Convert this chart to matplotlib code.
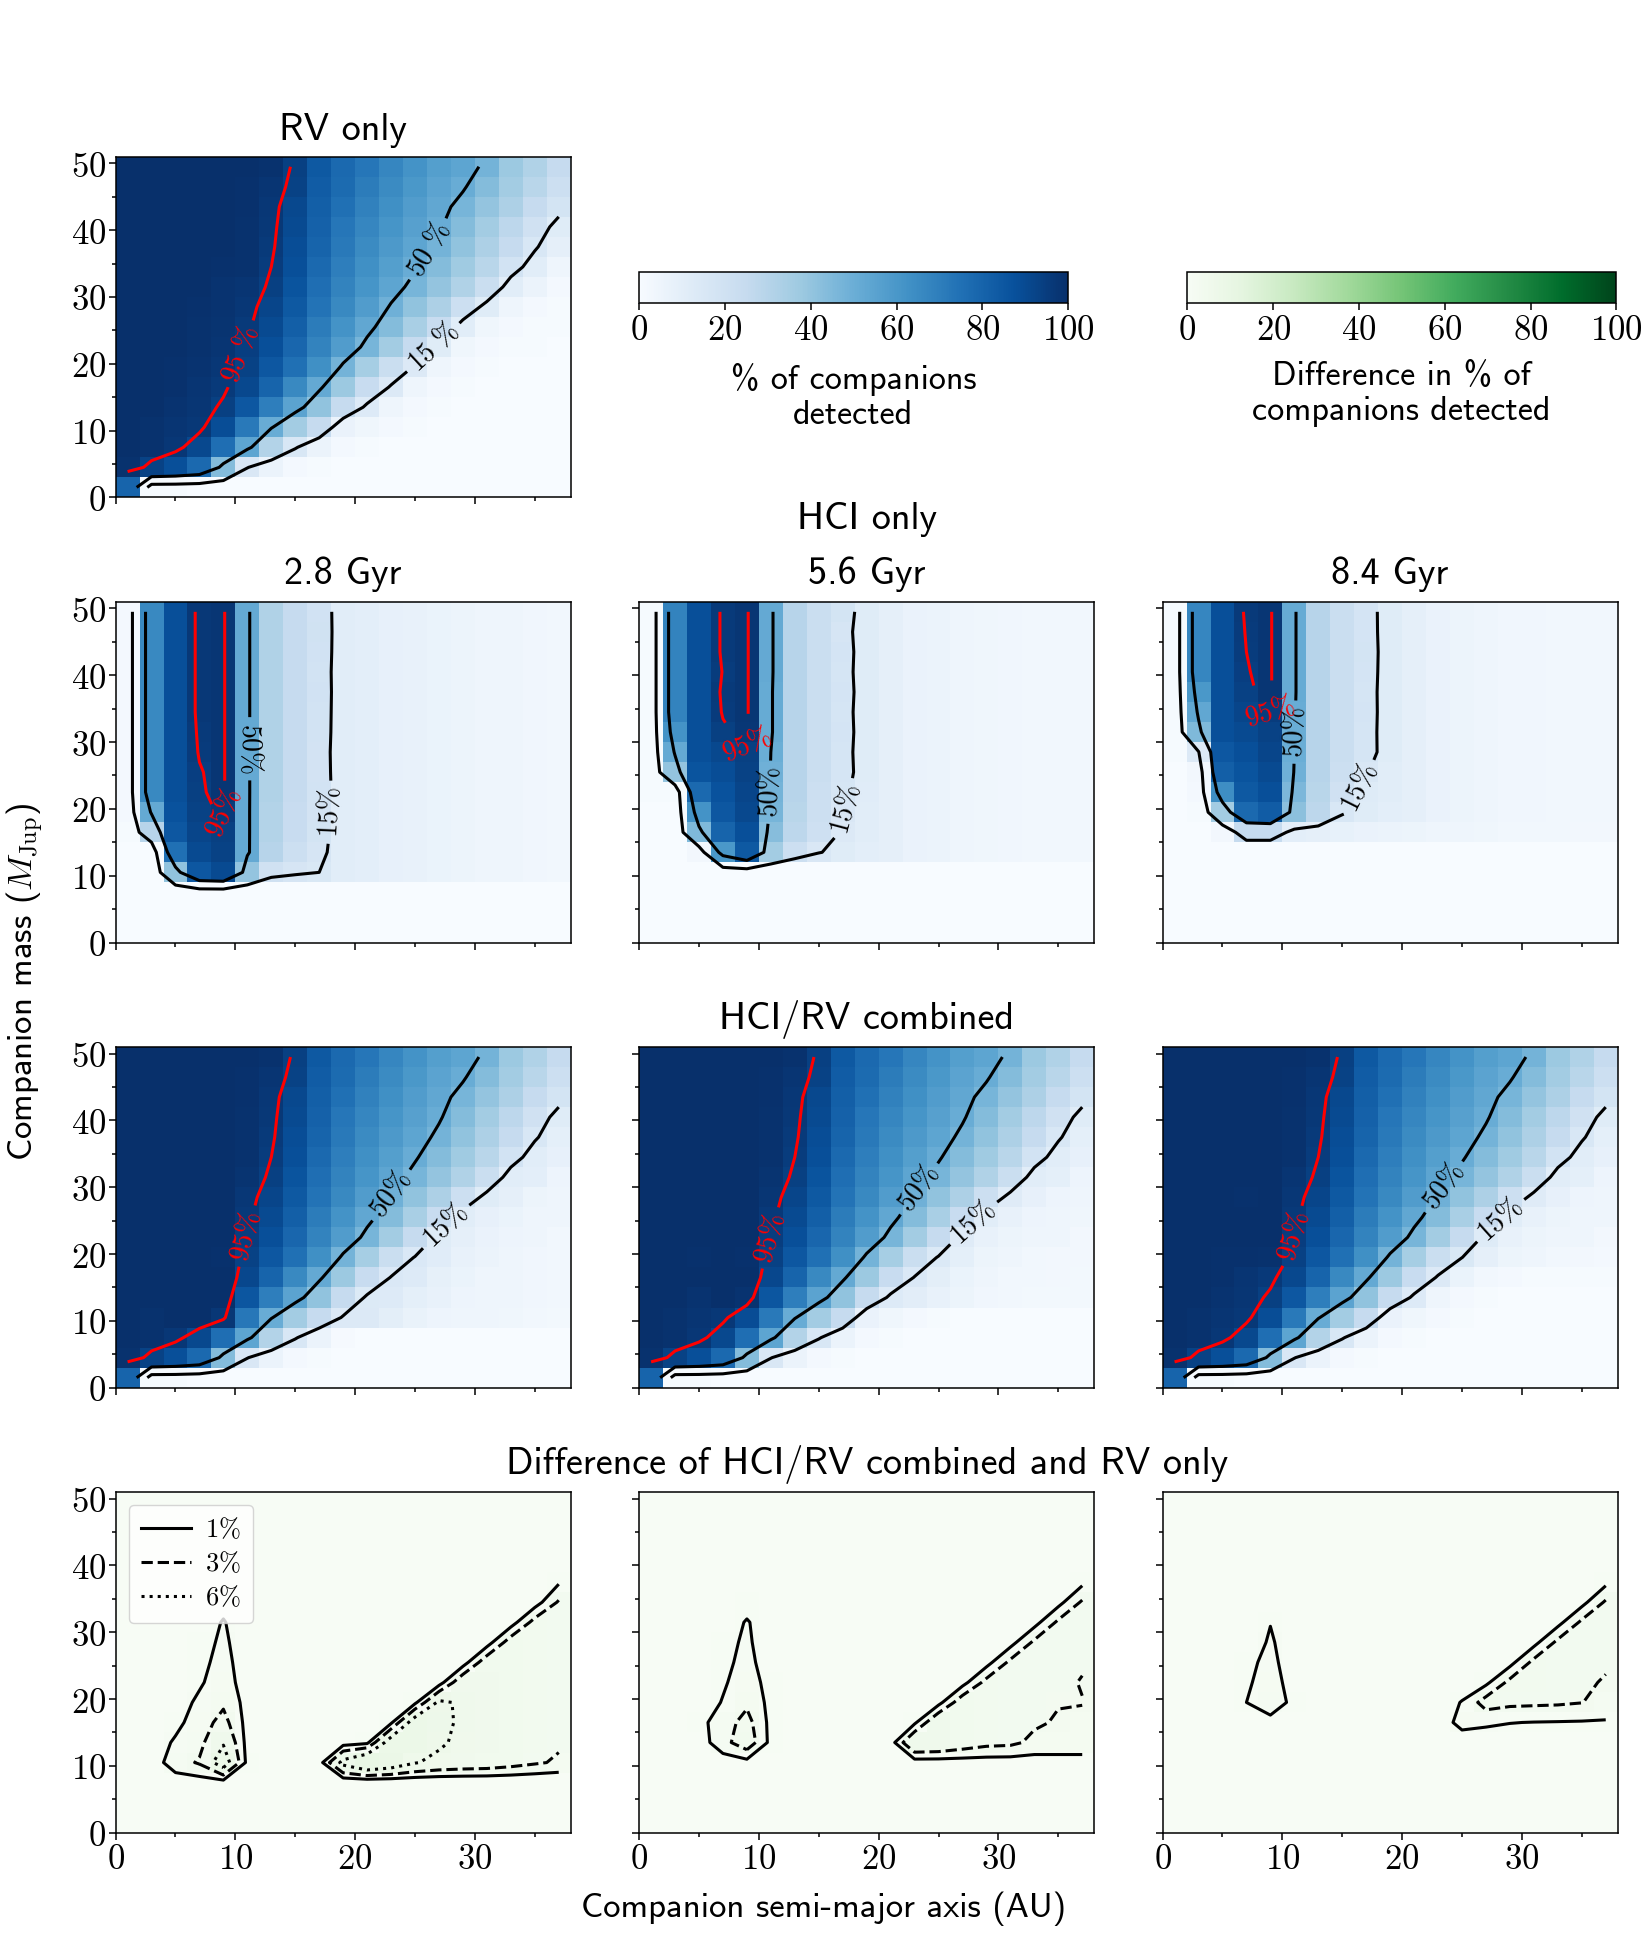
import numpy as np
import matplotlib
matplotlib.use('Agg')
import matplotlib.pyplot as plt
from matplotlib.ticker import MultipleLocator, FuncFormatter
from matplotlib.lines import Line2D
from matplotlib.cm import ScalarMappable
from matplotlib.colors import Normalize

plt.rcParams['mathtext.fontset'] = 'cm'
plt.rcParams['axes.unicode_minus'] = False
SANS = ['cmss10', 'DejaVu Sans']

# ---------------- grid (cell centres) ----------------
sep_au = [1, 3, 5, 7, 9, 11, 13, 15, 17, 19, 21, 23, 25, 27, 29, 31, 33, 35, 37]
mass_mjup = [1.5, 4.5, 7.5, 10.5, 13.5, 16.5, 19.5, 22.5, 25.5, 28.5, 31.5,
             34.5, 37.5, 40.5, 43.5, 46.5, 49.5]

# ---------------- RV only (% detected), rows = mass from low to high ----------------
rv_only = [
    [80, 1, 1, 0, 0, 0, 0, 0, 0, 0, 0, 0, 0, 0, 0, 0, 0, 0, 0],
    [99, 93, 88, 78, 44, 15.5, 6, 2, 1, 0, 0, 0, 0, 0, 0, 0, 0, 0, 0],
    [100, 99, 97, 91, 76, 54, 31, 16, 6, 2, 1, 0, 0, 0, 0, 0, 0, 0, 0],
    [100, 99, 98, 96.5, 89, 72, 51, 36, 25, 7, 4, 2, 1, 0, 0, 0, 0, 0, 0],
    [100, 100, 98.7, 97.5, 94, 85, 70, 55, 41, 25, 13, 5, 2, 1, 0, 0, 0, 0, 0],
    [100, 100, 99.5, 98, 96, 91, 80, 66, 52, 38, 24, 14, 5, 2, 1, 0, 0, 0, 0],
    [100, 100, 99.5, 98.6, 97, 93, 85, 75, 63, 48, 35, 23, 14, 5, 2, 1, 0, 0, 0],
    [100, 100, 99.8, 99, 98, 94.5, 88, 79, 68, 58, 47, 36, 25, 12, 4, 2, 1, 1, 0],
    [100, 100, 100, 99.2, 98.4, 96, 90, 82, 71, 62, 53, 44, 34, 24, 11, 4, 2, 1, 1],
    [100, 100, 100, 99.3, 98.6, 97, 92, 84, 74, 66, 58, 49, 41, 33, 22, 12, 5, 2, 1],
    [100, 100, 100, 99.7, 98.8, 98, 94, 86, 76, 68, 61, 54, 47, 40, 32, 23, 11, 6, 2],
    [100, 100, 100, 100, 99.4, 99, 95, 88, 78, 70, 63, 57, 51, 44, 37, 29, 19, 11, 5],
    [100, 100, 100, 100, 99.7, 99, 96, 89, 80, 72, 65, 59, 54, 48, 41, 33, 25, 16, 9],
    [100, 100, 100, 100, 99.7, 99, 96.5, 90, 81, 73, 67, 61, 56, 51, 44, 36, 28, 20, 12],
    [100, 100, 100, 100, 99.7, 99.5, 97, 91, 82, 75, 69, 63, 58, 53, 47, 40, 33, 25, 18],
    [100, 100, 100, 100, 99.7, 99.5, 98, 93, 83, 77, 71, 65, 60, 55, 51, 44, 36, 29, 22],
    [100, 100, 100, 100, 99.7, 99.8, 99, 94, 84, 78, 73, 67, 62, 57, 54, 48, 38, 32, 25],
]

# ---------------- HCI only ----------------
hci_2p8 = [
    [0] * 19,
    [0] * 19,
    [0] * 19,
    [0, 0, 41, 85, 90, 40, 20, 17, 15, 11, 10, 8.5, 7.5, 6.5, 5.5, 5, 4.3, 3.7, 3.3],
    [0, 0, 75, 90, 93, 52, 30, 22, 17, 11, 10, 8.5, 7.5, 6.5, 5.5, 5, 4.3, 3.7, 3.3],
    [1, 30, 85, 92, 94, 52, 31, 24, 18, 11, 10, 8.5, 7.5, 6.5, 5.5, 5, 4.3, 3.7, 3.3],
    [2, 52, 87, 93, 96, 52, 31, 24, 18.5, 11, 10, 8.5, 7.5, 6.5, 5.5, 5, 4.3, 3.7, 3.3],
    [2, 66, 88, 94, 97.5, 52, 32, 25, 19, 11, 10, 8.5, 7.5, 6.5, 5.5, 5, 4.3, 3.7, 3.3],
    [2, 66, 88, 94.5, 97.5, 52, 32, 25, 18.6, 11, 10, 8.5, 7.5, 6.5, 5.5, 5, 4.3, 3.7, 3.3],
    [2, 66, 88, 95.5, 97.5, 52, 32, 25, 18.4, 11, 10, 8.5, 7.5, 6.5, 5.5, 5, 4.3, 3.7, 3.3],
    [2, 66, 88, 96, 97.5, 52, 32, 25, 18.8, 11, 10, 8.5, 7.5, 6.5, 5.5, 5, 4.3, 3.7, 3.3],
    [2, 66, 88, 96.5, 97.5, 52, 32, 25, 19, 11, 10, 8.5, 7.5, 6.5, 5.5, 5, 4.3, 3.7, 3.3],
    [2, 66, 88, 96.5, 97.5, 52, 32, 25, 19.2, 11, 10, 8.5, 7.5, 6.5, 5.5, 5, 4.3, 3.7, 3.3],
    [2, 66, 88, 96.5, 97.5, 52, 32, 25, 19, 11, 10, 8.5, 7.5, 6.5, 5.5, 5, 4.3, 3.7, 3.3],
    [2, 66, 88, 96.5, 97.5, 52, 32, 25, 19.4, 11, 10, 8.5, 7.5, 6.5, 5.5, 5, 4.3, 3.7, 3.3],
    [2, 66, 88, 96.5, 97.5, 52, 32, 25, 19.6, 11, 10, 8.5, 7.5, 6.5, 5.5, 5, 4.3, 3.7, 3.3],
    [2, 66, 88, 96.5, 97.5, 52, 32, 25, 19.4, 11, 10, 8.5, 7.5, 6.5, 5.5, 5, 4.3, 3.7, 3.3],
]

hci_5p6 = [
    [0] * 19,
    [0] * 19,
    [0] * 19,
    [0] * 19,
    [0, 0, 3, 60, 84, 36, 22, 15.5, 12, 10, 9, 7, 6, 5, 4.2, 3.8, 3.5, 3.4, 3.3],
    [0, 0, 45, 80, 88, 43, 28, 21, 14, 11, 9, 7, 6, 5, 4.2, 3.8, 3.5, 3.4, 3.3],
    [0, 0, 62, 85, 91, 47, 29, 22, 15.5, 11, 9, 7, 6, 5, 4.2, 3.8, 3.5, 3.4, 3.3],
    [1, 1, 78, 87, 92, 48, 30, 22, 16.5, 11.5, 9, 7, 6, 5, 4.2, 3.8, 3.5, 3.4, 3.3],
    [1, 40, 86, 89, 93, 49, 30, 23, 17.5, 12, 9, 7, 6, 5, 4.2, 3.8, 3.5, 3.4, 3.3],
    [1, 52, 88, 91, 94, 50, 30, 23, 17.2, 12, 9, 7, 6, 5, 4.2, 3.8, 3.5, 3.4, 3.3],
    [1, 62, 88, 94, 97, 51.5, 30, 23, 17.6, 12, 9, 7, 6, 5, 4.2, 3.8, 3.5, 3.4, 3.3],
    [1, 68, 88, 95.5, 97.5, 51.5, 30, 23, 17.3, 12, 9, 7, 6, 5, 4.2, 3.8, 3.5, 3.4, 3.3],
    [1, 68, 88, 96, 97.5, 51.5, 30, 23, 17.7, 12, 9, 7, 6, 5, 4.2, 3.8, 3.5, 3.4, 3.3],
    [1, 68, 88, 95.3, 97.5, 52, 30, 23, 17.3, 12, 9, 7, 6, 5, 4.2, 3.8, 3.5, 3.4, 3.3],
    [1, 68, 88, 96, 97.5, 52, 30, 23, 17.6, 12, 9, 7, 6, 5, 4.2, 3.8, 3.5, 3.4, 3.3],
    [1, 68, 88, 96, 97.5, 52, 30, 23, 17.1, 12, 9, 7, 6, 5, 4.2, 3.8, 3.5, 3.4, 3.3],
    [1, 68, 88, 96, 97.5, 52, 30, 23, 18.0, 12, 9, 7, 6, 5, 4.2, 3.8, 3.5, 3.4, 3.3],
]

hci_8p4 = [
    [0] * 19,
    [0] * 19,
    [0] * 19,
    [0] * 19,
    [0] * 19,
    [0, 0, 3, 25, 25, 10, 9, 8, 7, 6, 5.5, 5, 4.5, 4, 3.5, 3.3, 3.2, 3.1, 3],
    [0, 1, 36, 78, 83, 42, 28, 16, 12, 10, 9, 7, 5.5, 4.5, 3.8, 3.6, 3.5, 3.4, 3.3],
    [0, 2, 64, 84, 88, 46, 29, 20, 12.5, 11, 9, 7, 5.5, 4.5, 3.8, 3.6, 3.5, 3.4, 3.3],
    [0, 3, 82, 86, 90, 49, 30, 22, 15.5, 11, 9, 7, 5.5, 4.5, 3.8, 3.6, 3.5, 3.4, 3.3],
    [1, 14, 85, 88, 92, 50, 30, 23, 17.5, 12, 9, 7, 5.5, 4.5, 3.8, 3.6, 3.5, 3.4, 3.3],
    [1, 45, 88, 90, 93, 50.5, 30, 23, 17.4, 12, 9, 7, 5.5, 4.5, 3.8, 3.6, 3.5, 3.4, 3.3],
    [1, 53, 88, 92, 95, 51, 30, 23, 17.6, 12, 9, 7, 5.5, 4.5, 3.8, 3.6, 3.5, 3.4, 3.3],
    [1, 60, 88, 93.5, 97.5, 51.5, 30, 23, 17.5, 12, 9, 7, 5.5, 4.5, 3.8, 3.6, 3.5, 3.4, 3.3],
    [1, 67, 88, 94.5, 97.5, 51.5, 30, 23, 17.8, 12, 9, 7, 5.5, 4.5, 3.8, 3.6, 3.5, 3.4, 3.3],
    [1, 67, 88, 95, 97.5, 51.5, 30, 23, 18.0, 12, 9, 7, 5.5, 4.5, 3.8, 3.6, 3.5, 3.4, 3.3],
    [1, 67, 88, 95.5, 97.5, 51.5, 30, 23, 17.7, 12, 9, 7, 5.5, 4.5, 3.8, 3.6, 3.5, 3.4, 3.3],
    [1, 67, 88, 96, 97.5, 51.5, 30, 23, 17.6, 12, 9, 7, 5.5, 4.5, 3.8, 3.6, 3.5, 3.4, 3.3],
]

# ---------------- Difference (HCI/RV combined - RV only) ----------------
diff_2p8 = [
    [0] * 19,
    [0] * 19,
    [0, 0, 0, 0, 0, 0, 0, 0, 0, -0.8, -0.8, -0.8, -0.8, -0.8, -0.8, -0.8, -0.8, -0.8, -0.8],
    [0, 0, 2, 3.25, 8, 0.4, 0, 0, 0, 7, 10, 8.5, 6.2, 5.2, 4.8, 4.6, 4.0, 3.3, 2.7],
    [0, 0, 1.25, 2.3, 5.7, 0.3, 0, 0, 0, 0, 0.5, 8, 7.5, 6.5, 5.2, 4.8, 4.3, 3.6, 3.3],
    [0, 0, 0.5, 1.9, 3.8, 0.3, 0, 0, 0, 0, 0, 0.6, 8, 6.8, 5.5, 5, 4.3, 3.6, 3.3],
    [0, 0, 0.3, 1.3, 2.6, 0.3, 0, 0, 0, 0, 0, 0, 0.5, 6.6, 5.5, 5, 4.3, 3.6, 3.3],
    [0, 0, 0.1, 0.8, 1.8, 0.2, 0, 0, 0, 0, 0, 0, 0, 0, 5, 4.8, 4.3, 3.7, 3.3],
    [0, 0, 0, 0.6, 1.5, 0.2, 0, 0, 0, 0, 0, 0, 0, 0, 0, 4.5, 4.3, 3.8, 3.3],
    [0, 0, 0, 0.4, 1.3, 0.1, 0, 0, 0, 0, 0, 0, 0, 0, 0, 0, 4.2, 3.8, 3.3],
    [0, 0, 0, 0.2, 1.1, 0.1, 0, 0, 0, 0, 0, 0, 0, 0, 0, 0, 0, 3.8, 3.3],
    [0, 0, 0, 0, 0.5, 0, 0, 0, 0, 0, 0, 0, 0, 0, 0, 0, 0, 0, 3.25],
    [0, 0, 0, 0, 0.2, 0, 0, 0, 0, 0, 0, 0, 0, 0, 0, 0, 0, 0, 0.75],
    [0, 0, 0, 0, 0.2, 0, 0, 0, 0, 0, 0, 0, 0, 0, 0, 0, 0, 0, 0],
    [0, 0, 0, 0, 0.2, 0, 0, 0, 0, 0, 0, 0, 0, 0, 0, 0, 0, 0, 0],
    [0, 0, 0, 0, 0.2, 0, 0, 0, 0, 0, 0, 0, 0, 0, 0, 0, 0, 0, 0],
    [0, 0, 0, 0, 0.2, 0, 0, 0, 0, 0, 0, 0, 0, 0, 0, 0, 0, 0, 0],
]

diff_5p6 = [
    [0] * 19,
    [0] * 19,
    [0] * 19,
    [0, 0, 0, 0, 0.3, 0, 0, 0, 0, 0, 0, 0, 0, 0, 0, 0, 0, 0, 0],
    [0, 0, 0, 2.2, 4.5, 0.4, 0, 0, 0, 0, 0, 5.8, 5.5, 4.5, 3.7, 3.5, 2.5, 2.5, 2.5],
    [0, 0, 0.4, 2.0, 3.8, 0.4, 0, 0, 0, 0, 0, 0.6, 5.5, 4.5, 3.7, 3.5, 3.3, 2.8, 2.7],
    [0, 0, 0.1, 1.1, 2.6, 0.4, 0, 0, 0, 0, 0, 0, 0.3, 4.5, 3.7, 3.5, 3.4, 3.1, 3.05],
    [0, 0, 0, 0.8, 1.8, 0.4, 0, 0, 0, 0, 0, 0, 0, 0.2, 3.7, 3.5, 3.4, 3.4, 2.9],
    [0, 0, 0, 0.67, 1.4, 0.3, 0, 0, 0, 0, 0, 0, 0, 0, 0.2, 3.5, 3.4, 3.4, 3.2],
    [0, 0, 0, 0.63, 1.2, 0.3, 0, 0, 0, 0, 0, 0, 0, 0, 0, 0.2, 3.4, 3.4, 3.3],
    [0, 0, 0, 0.3, 1.1, 0.3, 0, 0, 0, 0, 0, 0, 0, 0, 0, 0, 0.2, 3.4, 3.3],
    [0, 0, 0, 0, 0.5, 0, 0, 0, 0, 0, 0, 0, 0, 0, 0, 0, 0, 0.3, 3.3],
    [0, 0, 0, 0, 0.2, 0, 0, 0, 0, 0, 0, 0, 0, 0, 0, 0, 0, 0, 0.5],
    [0, 0, 0, 0, 0.2, 0, 0, 0, 0, 0, 0, 0, 0, 0, 0, 0, 0, 0, 0],
    [0, 0, 0, 0, 0.2, 0, 0, 0, 0, 0, 0, 0, 0, 0, 0, 0, 0, 0, 0],
    [0, 0, 0, 0, 0.2, 0, 0, 0, 0, 0, 0, 0, 0, 0, 0, 0, 0, 0, 0],
    [0, 0, 0, 0, 0.2, 0, 0, 0, 0, 0, 0, 0, 0, 0, 0, 0, 0, 0, 0],
]

diff_8p4 = [
    [0] * 19,
    [0] * 19,
    [0] * 19,
    [0] * 19,
    [0] * 19,
    [0, 0, 0, 0, 0.3, 0, 0, 0, 0, 0, 0, 0, 1.6, 1.3, 1.05, 0.95, 0.9, 0.85, 0.8],
    [0, 0, 0, 1.0, 2.2, 0.42, 0, 0, 0, 0, 0, 0, 1.1, 4.0, 3.5, 3.4, 3.3, 3.05, 2.3],
    [0, 0, 0, 0.77, 1.7, 0.3, 0, 0, 0, 0, 0, 0, 0, 0.5, 3.6, 3.6, 3.5, 3.4, 2.8],
    [0, 0, 0, 0.64, 1.4, 0.2, 0, 0, 0, 0, 0, 0, 0, 0, 0.3, 3.6, 3.5, 3.4, 3.3],
    [0, 0, 0, 0.1, 1.2, 0.1, 0, 0, 0, 0, 0, 0, 0, 0, 0, 0.3, 3.5, 3.4, 3.3],
    [0, 0, 0, 0, 0.95, 0, 0, 0, 0, 0, 0, 0, 0, 0, 0, 0, 0.3, 3.4, 3.3],
    [0, 0, 0, 0, 0.3, 0, 0, 0, 0, 0, 0, 0, 0, 0, 0, 0, 0, 0.3, 3.3],
    [0, 0, 0, 0, 0, 0, 0, 0, 0, 0, 0, 0, 0, 0, 0, 0, 0, 0, 0.5],
    [0] * 19,
    [0] * 19,
    [0] * 19,
    [0] * 19,
]

ages = ['2.8 Gyr', '5.6 Gyr', '8.4 Gyr']
hci_sets = [hci_2p8, hci_5p6, hci_8p4]
diff_sets = [diff_2p8, diff_5p6, diff_8p4]
diff_levels = [1, 3, 6]
diff_styles = ['solid', 'dashed', 'dotted']

# ---------------- layout ----------------
fig = plt.figure(figsize=(16.5, 19.5), dpi=100)
W, H = 1650.0, 1950.0
col_left = [115.6, 639.1, 1162.6]
row_top = [156.7, 601.8, 1047.0, 1492.0]
AW, AH = 455.1, 340.7


def add_px_axes(left, top, w, h):
    return fig.add_axes([left / W, 1 - (top + h) / H, w / W, h / H])


def ftext(xp, yp, s, size, **kw):
    fig.text(xp / W, 1 - yp / H, s, fontsize=size, ha='center', va='center',
             family=SANS, **kw)


TICK_FS = 25
CL_FS = 20
LW = 2.2
int_fmt = FuncFormatter(lambda v, p: r'$%d$' % round(v))


def style_axes(ax, show_x, show_y):
    ax.set_xlim(0, 38)
    ax.set_ylim(0, 51)
    ax.xaxis.set_major_locator(MultipleLocator(10))
    ax.xaxis.set_minor_locator(MultipleLocator(5))
    ax.yaxis.set_major_locator(MultipleLocator(10))
    ax.yaxis.set_minor_locator(MultipleLocator(5))
    ax.xaxis.set_major_formatter(int_fmt)
    ax.yaxis.set_major_formatter(int_fmt)
    ax.tick_params(which='major', direction='out', length=5, width=1.1,
                   labelsize=TICK_FS, pad=2)
    ax.tick_params(which='minor', direction='out', length=3.2, width=1.1)
    ax.tick_params(labelbottom=show_x, labelleft=show_y)
    for sp in ax.spines.values():
        sp.set_linewidth(1.1)


def blue_panel(ax, Z, fmt, lab_k, lab_r):
    ax.pcolormesh(sep_au, mass_mjup, Z, cmap='Blues', vmin=0, vmax=100,
                  shading='nearest')
    ax.set_xlim(0, 38)
    ax.set_ylim(0, 51)
    cs_k = ax.contour(sep_au, mass_mjup, Z, levels=[15, 50], colors='k',
                      linewidths=LW)
    cs_r = ax.contour(sep_au, mass_mjup, Z, levels=[95], colors='red',
                      linewidths=LW)
    ax.clabel(cs_k, fmt=fmt, fontsize=CL_FS, inline=True, inline_spacing=6,
              manual=lab_k)
    ax.clabel(cs_r, fmt=fmt, fontsize=CL_FS, inline=True, inline_spacing=6,
              manual=lab_r)


fmt_space = lambda v: r'$%d\ \%%$' % round(v)
fmt_tight = lambda v: r'$%d\%%$' % round(v)

rv_arr = np.array(rv_only, dtype=float)

# Row 1: RV only
ax = add_px_axes(col_left[0], row_top[0], AW, AH)
blue_panel(ax, rv_arr, fmt_space, [(25.8, 37.5), (26.5, 22.5)], [(9.8, 22)])
style_axes(ax, False, True)
ftext(343, 130.6, 'RV only', 27.5)

# Colorbars
norm = Normalize(0, 100)
cax1 = add_px_axes(639.1, 272.3, 429.0, 31.1)
cb1 = fig.colorbar(ScalarMappable(norm=norm, cmap='Blues'), cax=cax1,
                   orientation='horizontal', ticks=[0, 20, 40, 60, 80, 100])
cax2 = add_px_axes(1187.4, 272.3, 429.0, 31.1)
cb2 = fig.colorbar(ScalarMappable(norm=norm, cmap='Greens'), cax=cax2,
                   orientation='horizontal', ticks=[0, 20, 40, 60, 80, 100])
for cb in (cb1, cb2):
    cb.ax.xaxis.set_major_formatter(int_fmt)
    cb.ax.tick_params(labelsize=TICK_FS, length=5, width=1.1, pad=2)
    cb.outline.set_linewidth(1.1)
ftext(853.5, 397, '% of companions\ndetected', 24.5, linespacing=1.15)
ftext(1401, 394, 'Difference in % of\ncompanions detected', 24.5,
      linespacing=1.15)

# Row 2: HCI only
ftext(866.6, 519.7, 'HCI only', 27.5)
hci_labels_k = [[(11.1, 29.0), (17.9, 19.5)],
                [(10.8, 22.5), (17.2, 20.0)],
                [(10.9, 31.5), (16.6, 23.0)]]
hci_labels_r = [[(8.9, 19.5)], [(8.2, 26.5)], [(8.3, 31.0)]]
for i in range(3):
    ax = add_px_axes(col_left[i], row_top[1], AW, AH)
    blue_panel(ax, np.array(hci_sets[i], dtype=float), fmt_tight,
               hci_labels_k[i], hci_labels_r[i])
    style_axes(ax, False, i == 0)
    ftext((col_left[i] + AW / 2), 574.5, ages[i], 27.5)

# Row 3: combined
ftext(866.6, 1019.6, 'HCI/RV combined', 27.5)
comb_labels_k = [[(23.3, 28.5), (27.5, 24.3)],
                 [(24.0, 28.8), (28.0, 24.5)],
                 [(24.5, 28.5), (28.5, 24.5)]]
comb_labels_r = [[(10.8, 22.8)], [(10.6, 22.6)], [(11.2, 22.5)]]
for i in range(3):
    ax = add_px_axes(col_left[i], row_top[2], AW, AH)
    comb = np.clip(rv_arr + np.array(diff_sets[i], dtype=float), 0, 100)
    blue_panel(ax, comb, fmt_tight, comb_labels_k[i], comb_labels_r[i])
    style_axes(ax, False, i == 0)

# Row 4: difference
ftext(866.6, 1464.7, 'Difference of HCI/RV combined and RV only', 27.5)
for i in range(3):
    ax = add_px_axes(col_left[i], row_top[3], AW, AH)
    D = np.array(diff_sets[i], dtype=float)
    ax.pcolormesh(sep_au, mass_mjup, D, cmap='Greens', vmin=0, vmax=100,
                  shading='nearest')
    ax.contour(sep_au, mass_mjup, D, levels=diff_levels, colors='k',
               linestyles=diff_styles, linewidths=LW)
    style_axes(ax, True, i == 0)
    if i == 0:
        handles = [Line2D([], [], color='k', ls=ls, lw=LW) for ls in diff_styles]
        labels = [r'$%d\%%$' % lv for lv in diff_levels]
        ax.legend(handles, labels, loc='upper left', fontsize=19,
                  handlelength=1.9, labelspacing=0.3, borderpad=0.45,
                  handletextpad=0.55)

# Axis labels
fig.text(25 / W, 1 - 982 / H, r'Companion mass ($M_{\rm Jup}$)', rotation=90,
         fontsize=25, ha='center', va='center', family=SANS)
ftext(824, 1909, 'Companion semi-major axis (AU)', 25)

fig.savefig('out.png', dpi=100)
